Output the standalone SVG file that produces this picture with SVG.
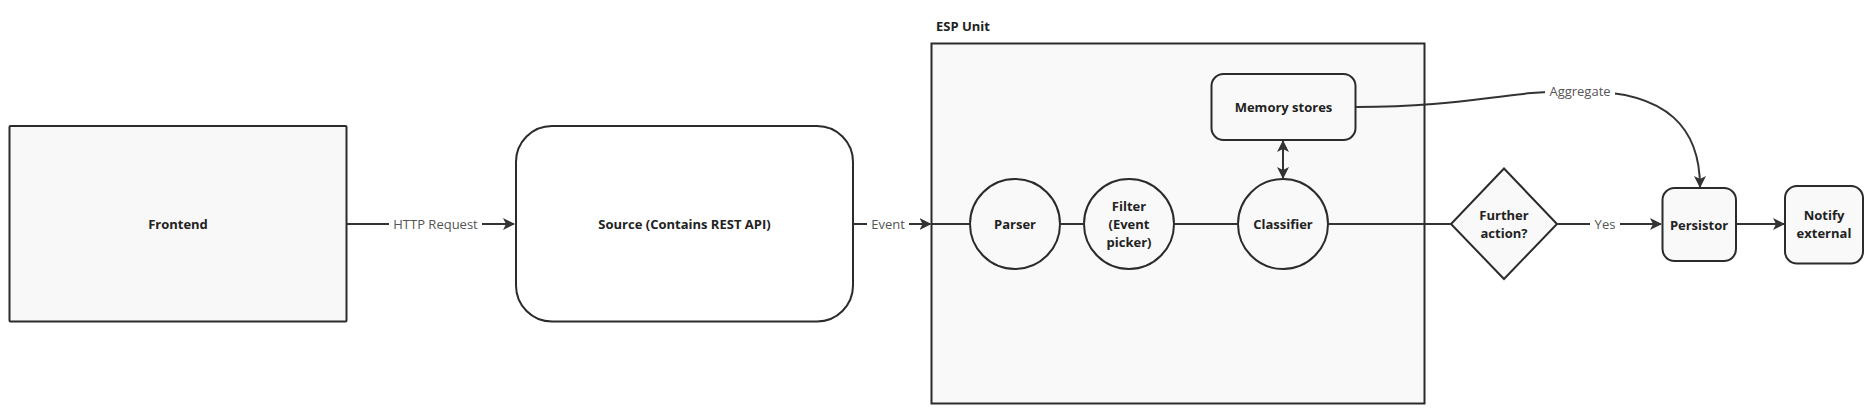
<svg xmlns="http://www.w3.org/2000/svg" width="1874" height="412" viewBox="0 0 1874 412">
<style>
.node{stroke:#2b2b2b;stroke-width:2;}
.lbl{font-family:"Open Sans","Liberation Sans",sans-serif;font-size:13px;font-weight:700;fill:#222;text-anchor:middle;dominant-baseline:central;}
.elbl{font-family:"Open Sans","Liberation Sans",sans-serif;font-size:13px;fill:#555;text-anchor:middle;dominant-baseline:central;}
.edge{fill:none;stroke:#333;stroke-width:2;}
</style>
<defs>
<marker id="ah" viewBox="0 0 12 12" markerWidth="12" markerHeight="12" refX="11" refY="6" orient="auto-start-reverse" markerUnits="userSpaceOnUse">
<path d="M0,0 L12,6 L0,12 L3,6 Z" fill="#333"/>
</marker>
</defs>
<rect width="1874" height="412" fill="#ffffff"/>
<g id="esp-unit">
<rect class="node" x="931.5" y="43.5" width="493" height="360" fill="#f9f9f9"/>
<text x="936" y="26" class="lbl" style="text-anchor:start">ESP Unit</text>
</g>
<g id="frontend">
<rect class="node" x="9.5" y="126" width="337" height="195.5" rx="1" fill="#f8f8f8"/>
<text x="178" y="224" class="lbl">Frontend</text>
</g>
<g id="source">
<rect class="node" x="516" y="126" width="337" height="195.5" rx="36" fill="#ffffff"/>
<text x="684.5" y="224" class="lbl">Source (Contains REST API)</text>
</g>
<g id="parser">
<circle class="node" cx="1015" cy="224" r="45" fill="#f9f9f9"/>
<text x="1015" y="224" class="lbl">Parser</text>
</g>
<g id="filter">
<circle class="node" cx="1129" cy="224" r="45" fill="#f9f9f9"/>
<text class="lbl"><tspan x="1129" y="206">Filter</tspan><tspan x="1129" y="224">(Event</tspan><tspan x="1129" y="242">picker)</tspan></text>
</g>
<g id="classifier">
<circle class="node" cx="1283" cy="224" r="45" fill="#f9f9f9"/>
<text x="1283" y="224" class="lbl">Classifier</text>
</g>
<g id="memory-stores">
<rect class="node" x="1211.5" y="74" width="144" height="66" rx="12" fill="#f9f9f9"/>
<text x="1283.5" y="107" class="lbl">Memory stores</text>
</g>
<g id="further-action">
<polygon class="node" points="1504,168.5 1557,224 1504,279 1451,224" fill="#f9f9f9"/>
<text class="lbl"><tspan x="1504" y="215">Further</tspan><tspan x="1504" y="233">action?</tspan></text>
</g>
<g id="persistor">
<rect class="node" x="1662.5" y="188" width="73.5" height="73" rx="12" fill="#f9f9f9"/>
<text x="1699" y="224.5" class="lbl">Persistor</text>
</g>
<g id="notify-external">
<rect class="node" x="1785" y="186" width="78" height="77.5" rx="12" fill="#f9f9f9"/>
<text class="lbl"><tspan x="1824" y="215">Notify</tspan><tspan x="1824" y="233">external</tspan></text>
</g>
<g id="connectors">
<line class="edge" x1="347" y1="224" x2="514" y2="224" marker-end="url(#ah)"/>
<rect x="389" y="215" width="93" height="18" fill="#ffffff"/>
<text x="435.5" y="224" class="elbl">HTTP Request</text>
<line class="edge" x1="854" y1="224" x2="930.5" y2="224" marker-end="url(#ah)"/>
<rect x="867" y="215" width="42" height="18" fill="#ffffff"/>
<text x="888" y="224" class="elbl">Event</text>
<line class="edge" x1="932" y1="224" x2="970" y2="224"/>
<line class="edge" x1="1060" y1="224" x2="1084" y2="224"/>
<line class="edge" x1="1174" y1="224" x2="1238" y2="224"/>
<line class="edge" x1="1328" y1="224" x2="1451" y2="224"/>
<line class="edge" x1="1283" y1="141" x2="1283" y2="178" marker-start="url(#ah)" marker-end="url(#ah)"/>
<line class="edge" x1="1557" y1="224" x2="1661" y2="224" marker-end="url(#ah)"/>
<rect x="1590" y="215" width="30" height="18" fill="#ffffff"/>
<text x="1605" y="224" class="elbl">Yes</text>
<line class="edge" x1="1737" y1="224" x2="1784" y2="224" marker-end="url(#ah)"/>
<path class="edge" d="M1356,107 C1470,107 1500,91 1580,91 C1670,91 1700,130 1700,187" marker-end="url(#ah)"/>
<rect x="1545" y="82" width="70" height="18" fill="#ffffff"/>
<text x="1580" y="91" class="elbl">Aggregate</text>
</g>
</svg>
